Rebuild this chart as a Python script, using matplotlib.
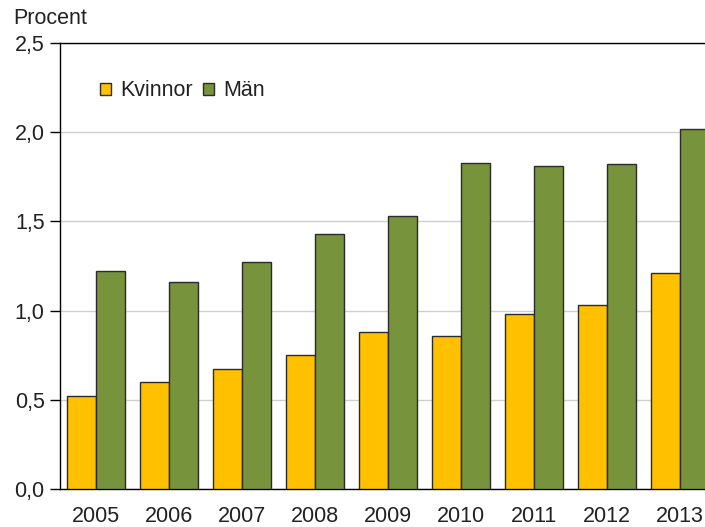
import matplotlib
matplotlib.use("Agg")
import matplotlib.pyplot as plt
from matplotlib.patches import Patch
import numpy as np

years = ["2005", "2006", "2007", "2008", "2009", "2010", "2011", "2012", "2013"]
kvinnor = [0.52, 0.60, 0.67, 0.75, 0.88, 0.86, 0.98, 1.03, 1.21]
man = [1.22, 1.16, 1.27, 1.43, 1.53, 1.83, 1.81, 1.82, 2.02]
yticks = [0.0, 0.5, 1.0, 1.5, 2.0, 2.5]
ytick_labels = ["0,0", "0,5", "1,0", "1,5", "2,0", "2,5"]

plt.rcParams['font.family'] = ['Liberation Sans', 'DejaVu Sans']

W, H = 705, 527
fig = plt.figure(figsize=(W/100, H/100), dpi=100)
ax = fig.add_axes([60/W, 1 - 489/H, 645/W, 446/H])

x = np.arange(len(years))
bw = 0.397
c_k = "#FFC000"
c_m = "#77933C"
edge = "#2b2b2b"
fs = 15.5
ax.bar(x - bw/2, kvinnor, width=bw, color=c_k, edgecolor=edge, linewidth=1.0, zorder=3)
ax.bar(x + bw/2, man, width=bw, color=c_m, edgecolor=edge, linewidth=1.0, zorder=3)

ax.set_xlim(-0.493, 8.343)
ax.set_ylim(0, 2.5)
ax.set_yticks(yticks)
ax.set_yticklabels(ytick_labels)
ax.set_xticks(x)
ax.set_xticklabels(years)

ax.yaxis.grid(True, color="#d0d0d0", linewidth=1.0, zorder=0)
ax.set_axisbelow(True)

ax.spines["right"].set_visible(False)
for s in ["left", "bottom", "top"]:
    ax.spines[s].set_color("black")
    ax.spines[s].set_linewidth(1.0)

ax.tick_params(axis="y", length=7, width=1.0, color="black", labelsize=fs, pad=4, labelcolor="#222222")
ax.tick_params(axis="x", length=0, labelsize=fs, pad=12, labelcolor="#222222")

fig.text(13/W, 1 - 18/H, "Procent", fontsize=fs, color="#222222", ha="left", va="center")

handles = [Patch(facecolor=c_k, edgecolor=edge, linewidth=1.0, label="Kvinnor"),
           Patch(facecolor=c_m, edgecolor=edge, linewidth=1.0, label="Män")]
ax.legend(handles=handles, loc="center left", bbox_to_anchor=((100 - 60)/645, (489 - 91)/446),
          ncol=2, frameon=False, fontsize=fs, handlelength=0.5, handleheight=0.5,
          handletextpad=0.45, columnspacing=0.45, borderaxespad=0, borderpad=0,
          labelcolor="#222222")

fig.savefig("out.png", dpi=100)
